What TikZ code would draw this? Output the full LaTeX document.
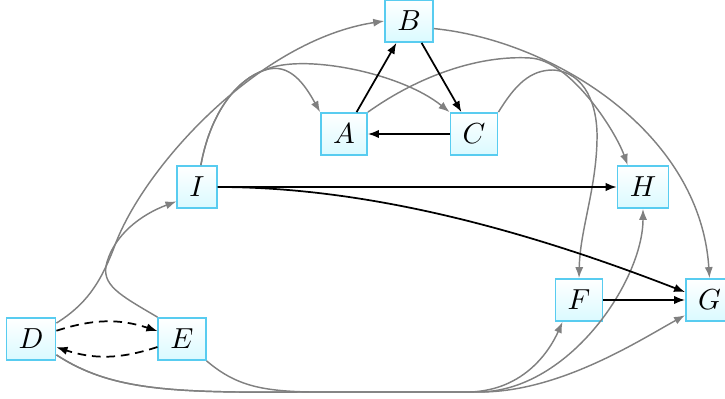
\documentclass[tikz,border=0pt]{standalone}
\usetikzlibrary{arrows.meta}
\definecolor{boxline}{RGB}{88,204,240}
\definecolor{boxfill}{RGB}{218,250,255}
\definecolor{edgegray}{RGB}{128,128,128}
\begin{document}
\begin{tikzpicture}[x=0.345pt,y=-0.345pt,
  vbox/.style={draw=boxline,line width=0.6pt,top color=white,bottom color=boxfill,
    minimum height=14.5pt,inner xsep=4.2pt,inner ysep=0pt},
  blk/.style={line width=0.6pt,-{Latex[length=3.8pt,width=2.9pt]}},
  gry/.style={draw=edgegray,line width=0.5pt,-{Latex[length=3.8pt,width=2.8pt]}},
  dsh/.style={line width=0.6pt,dashed,dash pattern=on 3pt off 2pt,-{Latex[length=3.8pt,width=2.9pt]}}
]
\useasboundingbox (0,0) rectangle (725,399);

\node[vbox] (B) at (409,21) {$B$};
\node[vbox] (A) at (344,134) {$A$};
\node[vbox] (C) at (474,134) {$C$};
\node[vbox] (I) at (197,187) {$I$};
\node[vbox] (H) at (643,187) {$H$};
\node[vbox] (D) at (31,339) {$D$};
\node[vbox] (E) at (182,339) {$E$};
\node[vbox] (F) at (579,300) {$F$};
\node[vbox] (G) at (709.5,300) {$G$};

% gray edges, upper left
\draw[gry] (D.32) .. controls (85,305) and (100,285) .. (115,245)
  .. controls (145,165) and (260,40) .. (B.west);
\draw[gry] (E.north west) .. controls (120,295) and (100,285) .. (107,262)
  .. controls (115,235) and (140,215) .. (I.215);
\draw[gry] (I.80) .. controls (210,115) and (235,80) .. (265,70)
  .. controls (290,62) and (305,85) .. (A.north west);
\draw[gry] (I.80) .. controls (210,115) and (235,80) .. (265,70)
  .. controls (300,53) and (400,72) .. (C.north west);

% gray edges, upper right
\draw[gry] (B.-17) .. controls (550,40) and (700,130) .. (G.north);
\draw[gry] (A.north east) .. controls (420,75) and (480,55) .. (530,58)
  .. controls (570,60) and (615,130) .. (H.125);
\draw[gry] (C.north east) .. controls (515,85) and (530,70) .. (553,70)
  .. controls (585,72) and (598,105) .. (597,140)
  .. controls (596,190) and (580,230) .. (F.north);

% gray edges, bottom
\draw[gry] (D.-32) .. controls (110,390) and (170,393) .. (300,392) -- (480,392)
  .. controls (560,392) and (640,340) .. (G.212);
\draw[gry] (D.-32) .. controls (110,390) and (170,393) .. (300,392) -- (480,392)
  .. controls (570,390) and (643,280) .. (H.south);
\draw[gry] (E.south east) .. controls (235,385) and (260,391) .. (310,392) -- (470,392)
  .. controls (525,390) and (550,350) .. (F.233);

% black edges
\draw[blk] (A) -- (B);
\draw[blk] (B) -- (C);
\draw[blk] (C) -- (A);
\draw[blk] (I) -- (H);
\draw[blk] (F) -- (G);
\draw[blk] (I.east) .. controls (350,187) and (500,220) .. (G.162);

% dashed
\draw[dsh] (D.18) to[bend left=18] (E.162);
\draw[dsh] (E.198) to[bend left=18] (D.-18);
\end{tikzpicture}
\end{document}
